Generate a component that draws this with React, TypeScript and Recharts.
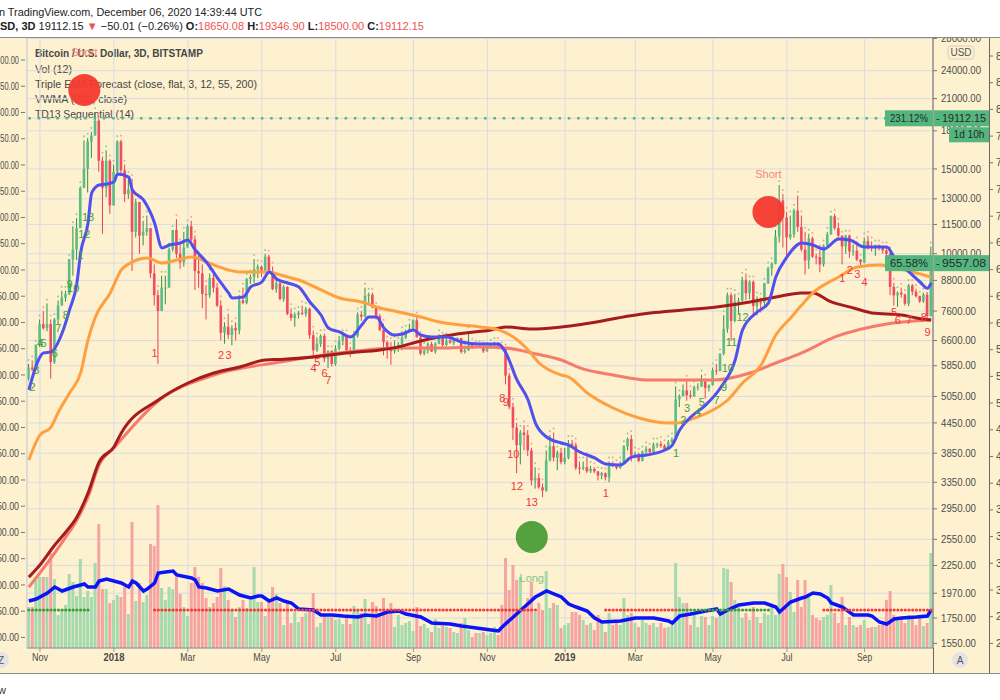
import React from "react";
import {
  ComposedChart, Bar, Line, XAxis, YAxis, CartesianGrid,
  ReferenceLine, ReferenceDot,
} from "recharts";

// BTC/USD Bitstamp, 3D bars, Oct 2017 - Oct 2019
const firstOpen = 5500;
const highs = [
  5900, 6000, 6470, 7300, 7600, 7880, 7300, 7350, 7990, 8370,
  8370, 9750, 11400, 11850, 13800, 17200, 17400, 17900, 19666, 19100,
  15900, 16400, 15700, 15300, 17200, 17250, 15300, 14500, 14300, 13000,
  12800, 11700, 12000, 11300, 9500, 8400, 9000, 9000, 10300, 11200,
  11800, 10500, 11100, 11500, 11700, 10900, 9900, 9500, 8600, 9100,
  9100, 8700, 8000, 7200, 7500, 7100, 7200, 8200, 8500, 8900,
  9050, 9750, 9500, 9450, 9990, 9950, 9400, 8880, 8850, 8600,
  8550, 7700, 7550, 7600, 7800, 7750, 7720, 6920, 6700, 6800,
  6820, 6300, 6300, 6450, 6750, 6800, 6800, 6400, 6750, 7550,
  7600, 8500, 8300, 8300, 7750, 7500, 7150, 6600, 6550, 6600,
  6550, 6900, 6950, 7150, 7300, 7400, 6750, 6400, 6550, 6560,
  6550, 6800, 6720, 6700, 6650, 6650, 6700, 6680, 6350, 6900,
  6540, 6450, 6450, 6420, 6400, 6500, 6550, 6550, 6420, 6350,
  5650, 4900, 4450, 4300, 4400, 4300, 3950, 3600, 3500, 3330,
  3900, 4200, 4250, 3900, 3950, 3950, 4100, 4100, 4050, 3700,
  3700, 3780, 3620, 3600, 3530, 3520, 3510, 3700, 3700, 3650,
  3700, 4000, 4150, 4200, 3880, 3860, 3900, 3980, 3950, 4050,
  4050, 4080, 4020, 4100, 4150, 5300, 5100, 5350, 5470, 5200,
  5320, 5380, 5600, 5500, 5350, 5800, 5900, 6200, 7450, 8300,
  8300, 8250, 8100, 8950, 9100, 8800, 8800, 8150, 8100, 8700,
  9400, 9600, 11200, 13880, 13300, 12200, 12000, 12400, 13200, 12000,
  11100, 11000, 10850, 10000, 10200, 10450, 11100, 12000, 12100, 11600,
  10900, 10950, 10950, 10450, 10600, 9750, 10800, 10900, 10600, 10450,
  10450, 10350, 10350, 10100, 8700, 8350, 8500, 8250, 8650, 8650,
  8450, 8180, 8300, 8330, 10350,
];
const lows = [
  5450, 5700, 5730, 6400, 6950, 6900, 5500, 5900, 7100, 7800,
  7950, 8200, 9000, 9700, 11300, 13700, 13400, 15800, 17600, 14800,
  11000, 13100, 12100, 12600, 14600, 14600, 12800, 13000, 9200, 10800,
  10000, 10400, 10900, 8900, 7800, 5900, 7600, 7850, 8500, 10100,
  9800, 9300, 9400, 10300, 10600, 8400, 8500, 7700, 7300, 8100,
  8300, 7750, 6600, 6500, 6650, 6450, 6600, 6800, 7850, 7850,
  8650, 8700, 8900, 8950, 9200, 9100, 8400, 8300, 8000, 7950,
  7450, 7250, 7050, 7330, 7450, 7400, 6650, 6100, 6250, 6400,
  5950, 5780, 5830, 5850, 6300, 6450, 6280, 6100, 6200, 6700,
  7250, 7370, 7850, 7700, 7300, 6900, 6150, 6050, 5880, 6200,
  6250, 6300, 6650, 6900, 6900, 6700, 6150, 6150, 6200, 6250,
  6200, 6480, 6380, 6420, 6500, 6450, 6550, 6200, 6200, 6280,
  6350, 6370, 6370, 6220, 6250, 6340, 6370, 6330, 6320, 5350,
  4750, 4100, 3500, 3650, 3900, 3800, 3300, 3250, 3250, 3120,
  3200, 3700, 3700, 3550, 3650, 3650, 3740, 3950, 3550, 3480,
  3550, 3500, 3500, 3500, 3380, 3400, 3380, 3350, 3600, 3560,
  3570, 3650, 3900, 3700, 3770, 3690, 3700, 3830, 3830, 3840,
  3950, 3950, 3900, 3920, 4040, 4100, 4800, 5050, 4950, 5000,
  5040, 5200, 5300, 5000, 5170, 5320, 5600, 5700, 6150, 6850,
  6600, 7200, 7500, 7950, 8000, 8050, 7450, 7450, 7550, 7800,
  8650, 9000, 9500, 10550, 10300, 9700, 10700, 10800, 11100, 10100,
  9050, 9300, 9800, 9500, 9150, 9400, 10350, 10950, 11200, 10800,
  9500, 10000, 9800, 9900, 9650, 9350, 9550, 10200, 10100, 9900,
  10150, 10000, 9650, 8200, 7800, 7750, 8100, 7800, 7780, 8200,
  8100, 7900, 7900, 7350, 7400,
];
const closes = [
  5800, 5750, 6470, 7140, 7000, 7140, 5950, 7300, 7800, 8100,
  8250, 9730, 10200, 11300, 13700, 15000, 17100, 17600, 18900, 15600,
  13700, 15600, 12600, 14800, 17100, 14900, 13300, 13600, 11100, 12800,
  10900, 11100, 11300, 9100, 8200, 7600, 8500, 8500, 10200, 11200,
  10000, 9600, 10300, 11400, 10700, 9200, 9100, 8250, 8200, 8900,
  8500, 7800, 6850, 7050, 6780, 7000, 6930, 8000, 7900, 8850,
  8950, 9280, 9400, 9220, 9860, 9200, 8440, 8680, 8050, 8530,
  7500, 7350, 7470, 7540, 7500, 7680, 6770, 6300, 6500, 6750,
  6050, 6280, 5900, 6350, 6590, 6760, 6300, 6230, 6740, 7470,
  7400, 8170, 8220, 7730, 7420, 6940, 6550, 6320, 6270, 6390,
  6470, 6690, 6910, 6980, 7270, 6700, 6200, 6290, 6490, 6260,
  6500, 6710, 6460, 6600, 6530, 6630, 6680, 6250, 6300, 6480,
  6410, 6400, 6400, 6270, 6380, 6480, 6530, 6390, 6340, 5580,
  4800, 4350, 4000, 4250, 4200, 3900, 3380, 3420, 3270, 3220,
  3720, 3980, 3770, 3860, 3690, 3770, 4030, 4000, 3590, 3580,
  3600, 3530, 3570, 3530, 3460, 3500, 3430, 3650, 3620, 3590,
  3660, 3980, 4120, 3810, 3830, 3710, 3880, 3930, 3870, 4010,
  4020, 3990, 3930, 4060, 4110, 4980, 5060, 5200, 5080, 5050,
  5280, 5290, 5430, 5260, 5330, 5720, 5700, 6200, 6980, 8200,
  7250, 7950, 7990, 8810, 8280, 8740, 7790, 7930, 7920, 8680,
  9320, 9530, 10850, 12900, 11900, 10810, 10980, 12290, 11360, 10200,
  9680, 10760, 9860, 9840, 9500, 10400, 10970, 11960, 11300, 10900,
  10350, 10910, 10110, 10140, 9720, 9600, 10620, 10330, 10310, 10410,
  10310, 10160, 9990, 8530, 8190, 8300, 8230, 7870, 8590, 8340,
  8160, 7960, 8220, 7420, 9557,
];
// volume, arbitrary units
const volumes = [
  41, 41, 68, 71, 71, 71, 95, 69, 33, 38,
  43, 74, 66, 52, 89, 51, 57, 51, 85, 124,
  59, 59, 45, 48, 53, 51, 61, 34, 126, 47,
  65, 46, 53, 104, 102, 143, 60, 48, 61, 59,
  71, 54, 41, 32, 65, 81, 71, 65, 50, 41,
  45, 51, 80, 62, 48, 38, 31, 41, 48, 40,
  48, 81, 46, 46, 32, 46, 61, 54, 45, 23,
  46, 25, 36, 26, 31, 35, 36, 55, 21, 25,
  33, 31, 31, 28, 29, 24, 31, 24, 42, 38,
  35, 49, 24, 46, 42, 35, 50, 36, 45, 21,
  33, 23, 25, 27, 17, 41, 22, 24, 20, 16,
  29, 20, 22, 21, 20, 16, 15, 25, 30, 18,
  11, 15, 15, 16, 13, 15, 21, 13, 43, 90,
  58, 83, 68, 71, 38, 50, 66, 36, 45, 38,
  77, 40, 45, 43, 20, 23, 25, 36, 36, 33,
  28, 23, 25, 18, 33, 25, 16, 35, 23, 25,
  23, 50, 33, 35, 25, 21, 28, 25, 23, 25,
  21, 25, 20, 21, 23, 85, 51, 45, 45, 23,
  33, 21, 32, 31, 23, 32, 30, 35, 80, 79,
  66, 48, 41, 30, 35, 28, 41, 31, 25, 35,
  33, 44, 33, 74, 84, 71, 56, 36, 68, 41,
  68, 51, 33, 30, 28, 31, 33, 63, 35, 25,
  51, 23, 31, 23, 21, 23, 28, 20, 21, 21,
  23, 23, 48, 57, 33, 31, 30, 25, 33, 31,
  23, 30, 22, 25, 95,
];

// indicator lines, [bar, value]
const fastEma = [
  [0, 5209], [4, 6220], [6, 6250], [9, 6843], [11, 7640], [13, 8692], [14, 10033], [16, 11583],
  [17, 13371], [19, 13888], [21, 13958], [23, 14092], [24, 14643], [27, 14427], [28, 13565],
  [31, 12933], [34, 11583], [36, 10277], [38, 10424], [41, 10527], [43, 10680], [45, 10179],
  [48, 9611], [51, 8903], [54, 8287], [55, 8091], [58, 8129], [60, 8527], [63, 8733], [65, 9163],
  [67, 8860], [70, 8692], [73, 8527], [76, 7937], [79, 7457], [81, 7010], [84, 6877], [87, 6714],
  [90, 7109], [92, 7387], [94, 7387], [96, 7010], [99, 6776], [101, 6810], [104, 6943], [106, 6776],
  [109, 6714], [113, 6714], [117, 6556], [122, 6493], [127, 6493], [129, 6220], [132, 5465],
  [135, 4966], [137, 4447], [140, 4160], [144, 4042], [146, 4003], [149, 3872], [153, 3763],
  [156, 3656], [160, 3639], [163, 3779], [167, 3816], [172, 3909], [174, 4003], [176, 4303],
  [179, 4577], [183, 4847], [187, 5259], [191, 6013], [193, 6943], [197, 7567], [200, 7900],
  [202, 8944], [205, 9843], [209, 10527], [212, 10424], [215, 10228], [219, 10731], [222, 10680],
  [226, 10325], [232, 10325], [234, 9843], [238, 9163], [241, 8733], [243, 8480], [244, 8692],
];
const ema55 = [
  [0, 3727], [3, 4200], [6, 4361], [8, 4689], [11, 5135], [14, 5652], [16, 6619], [18, 7387],
  [22, 8287], [25, 9252], [28, 9611], [32, 9797], [36, 9565], [40, 9704], [44, 9843], [48, 9611],
  [54, 9252], [57, 9163], [64, 9163], [70, 8944], [73, 8818], [79, 8407], [84, 8091], [90, 7937],
  [95, 7713], [100, 7567], [106, 7387], [111, 7213], [117, 7109], [122, 7042], [127, 6943],
  [131, 6714], [135, 6310], [138, 5927], [144, 5596], [146, 5543], [151, 5135], [158, 4779],
  [165, 4555], [173, 4447], [175, 4447], [180, 4555], [185, 4734], [189, 4966], [193, 5387],
  [198, 5869], [202, 6776], [206, 7353], [209, 7822], [212, 8287], [219, 8944], [224, 9384],
  [230, 9472], [233, 9384], [239, 9163], [244, 8944],
];
const vwma200 = [
  [0, 2128], [3, 2255], [7, 2481], [10, 2641], [13, 2838], [16, 3182], [19, 3691], [23, 3965],
  [25, 4241], [35, 4966], [43, 5387], [50, 5652], [57, 5817], [64, 6013], [68, 6030], [77, 6100],
  [86, 6220], [95, 6310], [100, 6402], [106, 6587], [111, 6714], [118, 6843], [125, 6943],
  [129, 7042], [136, 6976], [144, 7042], [168, 7531], [177, 7640], [186, 7751], [195, 7937],
  [202, 8129], [209, 8287], [212, 8287], [217, 7937], [223, 7713], [228, 7531], [236, 7457],
  [240, 7353], [244, 7283],
];
const ema200 = [
  [0, 2029], [3, 2171], [7, 2389], [10, 2579], [13, 2798], [16, 3122], [19, 3639], [23, 3947],
  [35, 4942], [50, 5596], [68, 5955], [86, 6250], [100, 6371], [111, 6371], [122, 6402],
  [129, 6371], [136, 6220], [144, 6013], [149, 5790], [158, 5596], [167, 5465], [175, 5465],
  [185, 5465], [195, 5652], [202, 5927], [209, 6220], [218, 6714], [232, 7145], [244, 7283],
];
const volumeMa = [
  [0, 47], [2, 49], [5, 55], [7, 61], [9, 57], [12, 61], [15, 64], [16, 61], [18, 61], [19, 67],
  [21, 69], [24, 66], [25, 65], [27, 61], [28, 67], [29, 65], [31, 57], [32, 59], [34, 65], [35, 75],
  [37, 76], [39, 77], [40, 73], [44, 70], [45, 68], [46, 61], [48, 60], [51, 57], [54, 59], [57, 53],
  [60, 50], [62, 52], [63, 52], [65, 47], [67, 50], [69, 47], [71, 45], [73, 39], [77, 38], [79, 33],
  [82, 33], [85, 32], [89, 31], [91, 33], [94, 32], [97, 36], [100, 37], [102, 34], [106, 31],
  [109, 25], [114, 24], [117, 22], [121, 20], [125, 18], [127, 17], [128, 21], [131, 31], [134, 41],
  [137, 51], [140, 57], [144, 51], [146, 44], [148, 41], [151, 37], [153, 30], [155, 26], [160, 27],
  [164, 30], [169, 30], [173, 27], [174, 25], [176, 32], [179, 34], [183, 37], [186, 39], [187, 34],
  [189, 38], [192, 43], [196, 45], [199, 45], [202, 41], [203, 36], [206, 46], [209, 50], [210, 51],
  [212, 55], [214, 54], [216, 50], [217, 45], [220, 41], [223, 33], [227, 33], [228, 32], [230, 26],
  [232, 24], [234, 29], [236, 30], [240, 31], [243, 32], [244, 38],
];

// TD13 dotted state line (bar ranges) and its level on the volume scale
const tdRedRuns = [[34, 137], [156, 175], [215, 244]];
const tdGreenRuns = [[0, 16], [176, 200]];
const tdLevel = 38;

// TD counts: [bar, text, price, up]
const tdCounts = [
  [1, "2", 5284, true], [2, "3", 5734, true], [3, "4", 6524, true], [4, "5", 6524, true],
  [7, "6", 6220, true], [8, "7", 7010, true], [10, "8", 7457, true], [11, "9", 8650, true],
  [12, "10", 8480, true], [14, "1", 9938, true], [15, "12", 10989, true], [16, "13", 11921, true],
  [34, "1", 6220, false], [52, "2", 6163, false], [54, "3", 6163, false], [77, "4", 5790, false],
  [78, "5", 5955, false], [80, "6", 5652, false], [81, "7", 5465, false], [128, "8", 5014, false],
  [129, "9", 4919, false], [131, "10", 3835, false], [132, "12", 3290, false], [136, "13", 3047, false],
  [156, "1", 3187, false], [175, "1", 3853, true], [177, "2", 4512, true], [178, "3", 4779, true],
  [181, "4", 4689, true], [182, "5", 4919, true], [186, "7", 4966, true], [188, "9", 5284, true],
  [189, "10", 5790, true], [190, "11", 6556, true], [193, "12", 7387, true],
  [220, "1", 8903, false], [222, "2", 9252, false], [224, "3", 9076, false], [226, "4", 8733, false],
  [234, "5", 7567, false], [235, "6", 7283, false], [238, "7", 7283, false], [242, "8", 7387, false],
  [243, "9", 6877, false],
];

const signals = [
  { bar: 15, price: 21890, kind: "short" },
  { bar: 200, price: 12209, kind: "short" },
  { bar: 136, price: 2579, kind: "long" },
];

const monthBars = [3, 23, 43, 63, 83, 104, 124, 145, 164, 185, 205, 226];
const monthNames = ["Nov", "2018", "Mar", "May", "Jul", "Sep", "Nov", "2019", "Mar", "May", "Jul", "Sep"];
const priceTicks = [
  28000, 24000, 21000, 18000, 15000, 13000, 11500, 10000, 8800, 7600, 6600,
  5850, 5050, 4450, 3850, 3350, 2950, 2550, 2250, 1970, 1750, 1550,
];
const leftTicks = [
  1400, 1350, 1300, 1250, 1200, 1150, 1100, 1050, 1000, 950, 900, 850,
  800, 750, 700, 650, 600, 550, 500, 450, 400, 350, 300,
];
const farAxisDigits = ["8", "8", "8", "7", "7", "7", "7", "6", "6", "6", "6", "5", "5", "5", "4", "4", "4", "3", "3", "3", "3", "2", "2"];

const lastPrice = 19112.15;
const lastChange = "231.12%";
const countdown = "1d 10h";
const markPrice = 9557.08;
const markChange = "65.58%";
const priceTags = [
  { price: lastPrice, change: lastChange, extra: countdown },
  { price: markPrice, change: markChange, extra: null },
];

// ---- styles
const FONT = '"Liberation Sans", Arial, sans-serif';
const BG = "#fdf1cf";
const PRICE_DOMAIN = [1516, 28063];
const AXIS_X = 933;
const C = {
  up: "#58bd86", down: "#ef4d5b", wickUp: "#3c8f3c", wickDown: "#e8434f",
  dotUp: "#8fcf8f", dotDown: "#f3a3a3",
  volUp: "#a5d9ae", volDown: "#f6a4a2",
  fast: "#5050f0", ema55: "#ffa040", vwma: "#a61c1c", ema200: "#f47b6e", volMa: "#0a14f5",
  tdUp: "#45a03c", tdDown: "#f03a3a", tag: "#55b57f",
};
const tickWidths = { Nov: 16, Mar: 15, May: 17, Jul: 11, Sep: 15, "2018": 21, "2019": 21 };

const lookup = (pts) => {
  const m = new Map(pts.map(([i, v]) => [i, v]));
  return (i) => (m.has(i) ? m.get(i) : null);
};
const inRuns = (runs, i) => runs.some(([a, b]) => i >= a && i <= b);
const fastAt = lookup(fastEma);
const e55At = lookup(ema55);
const vwmaAt = lookup(vwma200);
const e200At = lookup(ema200);
const volMaAt = lookup(volumeMa);
const tdMap = new Map(tdCounts.map((t) => [t[0], t]));

const rows = closes.map((close, i) => {
  const td = tdMap.get(i);
  return {
    i,
    open: i === 0 ? firstOpen : closes[i - 1],
    close,
    high: highs[i],
    low: lows[i],
    range: [lows[i], highs[i]],
    vol: volumes[i],
    fast: fastAt(i),
    e55: e55At(i),
    vwma: vwmaAt(i),
    e200: e200At(i),
    volMa: volMaAt(i),
    tdRed: inRuns(tdRedRuns, i) ? tdLevel : null,
    tdGreen: inRuns(tdGreenRuns, i) ? tdLevel : null,
    tdY: td ? td[2] : null,
    tdText: td ? td[1] : null,
    tdUp: td ? td[3] : false,
  };
});

const Candle = (p) => {
  const { x, y, width, height, payload } = p;
  if (x == null || y == null) return null;
  const { open, close, high, low } = payload;
  const cx = x + width / 2;
  const lh = Math.log(high);
  const span = lh - Math.log(low);
  const py = (v) => y + (span > 0 ? (height * (lh - Math.log(v))) / span : 0);
  const up = close >= open;
  const t = py(Math.max(open, close));
  const b = py(Math.min(open, close));
  return (
    <g>
      <circle cx={cx} cy={y - 4} r={1} fill={up ? C.dotUp : C.dotDown} />
      <line x1={cx} x2={cx} y1={y} y2={y + height} stroke={up ? C.wickUp : C.wickDown} strokeWidth={1} />
      <rect x={cx - 1.3} y={t} width={2.6} height={Math.max(1, b - t)} fill={up ? C.up : C.down} />
    </g>
  );
};

const VolBar = (p) => {
  const { x, y, width, height, payload } = p;
  if (x == null || y == null) return null;
  return <rect x={x} y={y} width={width} height={height} fill={payload.close >= payload.open ? C.volUp : C.volDown} />;
};

const TdLabel = (p) => {
  const { cx, cy, payload, index } = p;
  if (cy == null || !payload || !payload.tdText) return <g key={`td${index}`} />;
  return (
    <text key={`td${index}`} x={cx} y={cy + 4} textAnchor="middle" fontSize={11}
      fill={payload.tdUp ? C.tdUp : C.tdDown} fontFamily={FONT}>
      {payload.tdText}
    </text>
  );
};

const Signal = (p) => {
  const { cx, cy, kind } = p;
  if (cx == null || cy == null) return null;
  const short = kind === "short";
  return (
    <g>
      <circle cx={cx} cy={cy} r={16} fill={short ? "#f5392e" : "#4b9c38"} fillOpacity={0.95} />
      <text x={cx} y={short ? cy - 34 : cy + 45} textAnchor="middle" fontSize={11}
        fill={short ? "#f2877e" : "#86c583"} fontFamily={FONT}>
        {short ? "Short" : "Long"}
      </text>
    </g>
  );
};

const PriceTag = ({ y, tag }) => (
  <g fontFamily={FONT} fontSize={11}>
    <rect x={AXIS_X - 48} y={y - 8} width={48} height={16} fill={C.tag} />
    <text x={AXIS_X - 24} y={y + 4} textAnchor="middle" fill="#1f2d25" textLength={38} lengthAdjust="spacingAndGlyphs">{tag.change}</text>
    <rect x={AXIS_X + 1} y={y - 8} width={55} height={16} fill={C.tag} />
    <text x={AXIS_X + 3} y={y + 4} fill="#1f2d25">-</text>
    <text x={AXIS_X + 9} y={y + 4} fill="#1f2d25" textLength={44} lengthAdjust="spacingAndGlyphs">{tag.price.toFixed(2)}</text>
    {tag.extra ? (
      <g>
        <rect x={AXIS_X + 16} y={y + 9} width={40} height={15} fill={C.tag} />
        <text x={AXIS_X + 36} y={y + 20} textAnchor="middle" fill="#1f2d25" textLength={31} lengthAdjust="spacingAndGlyphs">{tag.extra}</text>
      </g>
    ) : null}
  </g>
);

const XTick = ({ x, payload }) => {
  const name = monthNames[monthBars.indexOf(payload.value)] || "";
  const year = /^\d{4}$/.test(name);
  return (
    <text x={x} y={661} textAnchor="middle" fontSize={11} fontWeight={year ? 700 : 400} fill="#4a4a4a"
      fontFamily={FONT} textLength={tickWidths[name] || 15} lengthAdjust="spacingAndGlyphs">
      {name}
    </text>
  );
};

// price axis ticks; the tag prices come last so their boxes cover the plain labels
const PriceTick = ({ y, payload }) => {
  const tag = priceTags.find((t) => Math.abs(t.price - payload.value) < 0.01);
  if (tag) return <PriceTag y={y} tag={tag} />;
  const s = payload.value.toFixed(2);
  return (
    <g>
      <line x1={AXIS_X} x2={AXIS_X + 4} y1={y} y2={y} stroke="#777" />
      <text x={AXIS_X + 8} y={y + 3.6} fontSize={10.5} fill="#4d4d4d" fontFamily={FONT}
        textLength={s.length * 5} lengthAdjust="spacingAndGlyphs">{s}</text>
    </g>
  );
};

const LeftTick = ({ y, payload }) => (
  <g>
    <text x={19} y={y + 3.6} textAnchor="end" fontSize={10.5} fill="#4d4d4d" fontFamily={FONT}
      textLength={27} lengthAdjust="spacingAndGlyphs">{payload.value.toFixed(2)}</text>
    <line x1={21} x2={25} y1={y} y2={y} stroke="#777" />
  </g>
);

export default function App() {
  return (
    <div style={{ position: "absolute", left: 0, top: 0, width: 1000, height: 700, background: "#fff", overflow: "hidden", fontFamily: FONT }}>
      <div style={{ position: "absolute", left: 0, top: 38, width: 1000, height: 636, background: BG }} />
      <svg width={1000} height={700} style={{ position: "absolute", left: 0, top: 0 }}>
        <g fontFamily={FONT} fontSize={11} fill="#474747">
          <text x={35} y={57} fontWeight={700} textLength={168} lengthAdjust="spacingAndGlyphs">Bitcoin / U.S. Dollar, 3D, BITSTAMP</text>
          <text x={35} y={73} textLength={37} lengthAdjust="spacingAndGlyphs">Vol (12)</text>
          <text x={35} y={88} textLength={222} lengthAdjust="spacingAndGlyphs">Triple EMA Forecast (close, flat, 3, 12, 55, 200)</text>
          <text x={35} y={103} textLength={92} lengthAdjust="spacingAndGlyphs">VWMA (200, close)</text>
          <text x={35} y={118} textLength={99} lengthAdjust="spacingAndGlyphs">TD13 Sequential (14)</text>
        </g>
      </svg>
      <div style={{ position: "absolute", left: 0, top: 0 }}>
        <ComposedChart width={1000} height={700} data={rows} margin={{ top: 38, right: 11, bottom: 26, left: 0 }}>
          <CartesianGrid xAxisId="m" yAxisId="price" stroke="#d9dbe3" />
          <XAxis xAxisId="m" dataKey="i" type="category" ticks={monthBars} interval={0} tick={<XTick />}
            tickLine={{ stroke: "#9a9a9a" }} tickSize={4} axisLine={{ stroke: "#8c8c8c" }} height={26} />
          <XAxis xAxisId="v" dataKey="i" type="category" hide />
          <YAxis yAxisId="price" orientation="right" type="number" scale="log" domain={PRICE_DOMAIN}
            allowDataOverflow ticks={[...priceTicks, ...priceTags.map((t) => t.price)]} interval={0}
            width={56} tick={<PriceTick />} tickLine={false} axisLine={{ stroke: "#666" }} />
          <YAxis yAxisId="left" orientation="left" type="number" domain={[279.9, 1441.9]}
            allowDataOverflow ticks={leftTicks} interval={0} width={27} tick={<LeftTick />}
            tickLine={false} axisLine={{ stroke: "#cfcfcf" }} />
          <YAxis yAxisId="vol" type="number" hide domain={[0, 610]} allowDataOverflow />

          <Bar xAxisId="v" yAxisId="vol" dataKey="vol" barSize={3} shape={VolBar} isAnimationActive={false} />
          <Line xAxisId="m" yAxisId="vol" dataKey="volMa" type="linear" connectNulls stroke={C.volMa}
            strokeWidth={3.5} dot={false} activeDot={false} isAnimationActive={false} />
          <Line xAxisId="m" yAxisId="vol" dataKey="tdRed" stroke="none" isAnimationActive={false}
            dot={{ r: 1.6, fill: "#f23c3c", stroke: "none" }} activeDot={false} />
          <Line xAxisId="m" yAxisId="vol" dataKey="tdGreen" stroke="none" isAnimationActive={false}
            dot={{ r: 1.6, fill: "#3f9a3f", stroke: "none" }} activeDot={false} />

          <Bar xAxisId="m" yAxisId="price" dataKey="range" barSize={3} shape={Candle} isAnimationActive={false} />

          <Line xAxisId="m" yAxisId="price" dataKey="e200" type="monotone" connectNulls stroke={C.ema200}
            strokeWidth={3} dot={false} activeDot={false} isAnimationActive={false} />
          <Line xAxisId="m" yAxisId="price" dataKey="vwma" type="monotone" connectNulls stroke={C.vwma}
            strokeWidth={3} dot={false} activeDot={false} isAnimationActive={false} />
          <Line xAxisId="m" yAxisId="price" dataKey="e55" type="monotone" connectNulls stroke={C.ema55}
            strokeWidth={3} dot={false} activeDot={false} isAnimationActive={false} />
          <Line xAxisId="m" yAxisId="price" dataKey="fast" type="monotone" connectNulls stroke={C.fast}
            strokeWidth={3} dot={false} activeDot={false} isAnimationActive={false} />
          <Line xAxisId="m" yAxisId="price" dataKey="tdY" stroke="none" dot={TdLabel} activeDot={false}
            isAnimationActive={false} />

          <ReferenceLine xAxisId="m" yAxisId="price" y={lastPrice} stroke={C.tag} strokeWidth={2.5}
            strokeDasharray="2.5 6.8" />
          {signals.map((s) => (
            <ReferenceDot key={`${s.bar}`} xAxisId="m" yAxisId="price" x={s.bar} y={s.price} r={16}
              shape={(p) => <Signal {...p} kind={s.kind} />} />
          ))}
        </ComposedChart>
      </div>
      <svg width={1000} height={700} style={{ position: "absolute", left: 0, top: 0, pointerEvents: "none" }}>
        <g fontFamily={FONT}>
          <rect x={0} y={0} width={1000} height={37.5} fill="#fff" />
          <line x1={0} x2={1000} y1={37.5} y2={37.5} stroke="#8a8a8a" />
          <text x={-7} y={16} fontSize={11.5} fill="#222" textLength={269} lengthAdjust="spacingAndGlyphs">
            on TradingView.com, December 06, 2020 14:39:44 UTC
          </text>
          <text x={-8} y={30} fontSize={11.5} fill="#222" textLength={432} lengthAdjust="spacingAndGlyphs">
            <tspan fontWeight={700}>USD, 3D</tspan>{" 19112.15 "}
            <tspan fill="#ef5350">▼</tspan>{" −50.01 (−0.26%) "}
            <tspan fontWeight={700}>O:</tspan><tspan fill="#ef5350">18650.08</tspan>{" "}
            <tspan fontWeight={700}>H:</tspan><tspan fill="#ef5350">19346.90</tspan>{" "}
            <tspan fontWeight={700}>L:</tspan><tspan fill="#ef5350">18500.00</tspan>{" "}
            <tspan fontWeight={700}>C:</tspan><tspan fill="#ef5350">19112.15</tspan>
          </text>
          <rect x={948} y={46} width={26} height={13} rx={3} fill={BG} stroke="#d0d0d0" />
          <text x={961} y={56} textAnchor="middle" fontSize={10} fill="#555">USD</text>
          <line x1={933.5} x2={933.5} y1={648} y2={673} stroke="#666" />
          <line x1={989.5} x2={989.5} y1={38} y2={673} stroke="#666" />
          {farAxisDigits.map((d, k) => (
            <g key={k}>
              <line x1={990} x2={993} y1={56 + 26.7 * k} y2={56 + 26.7 * k} stroke="#777" />
              <text x={996} y={59.5 + 26.7 * k} fontSize={10.5} fill="#4d4d4d">{d}</text>
            </g>
          ))}
          <line x1={0} x2={1000} y1={673.5} y2={673.5} stroke="#8a8a8a" />
          <circle cx={960} cy={660} r={8} fill="#e4e4e4" />
          <text x={960} y={664} textAnchor="middle" fontSize={10} fill="#555">A</text>
          <circle cx={1} cy={660} r={8} fill="#e4e4e4" />
          <text x={1} y={664} textAnchor="middle" fontSize={10} fill="#555">Z</text>
          <text x={-2} y={694} fontSize={11} fill="#333">w</text>
        </g>
      </svg>
    </div>
  );
}
